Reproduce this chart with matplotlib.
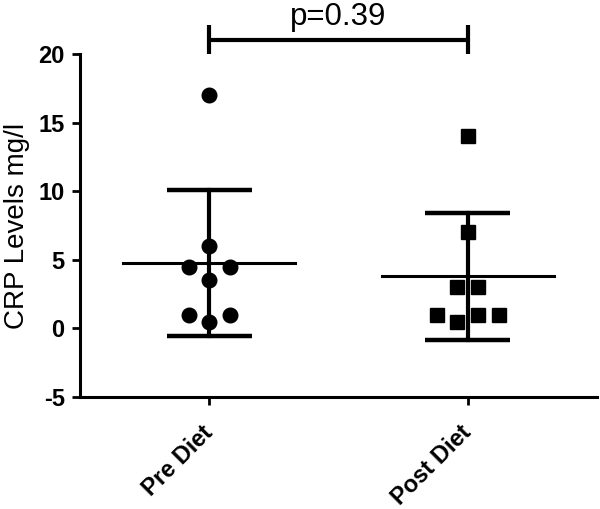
import numpy as np
import matplotlib
matplotlib.use("Agg")
import matplotlib.pyplot as plt

plt.rcParams['font.family'] = ['Liberation Sans', 'DejaVu Sans']

categories = ["Pre Diet", "Post Diet"]
pre_diet = [17, 6, 4.5, 4.5, 3.5, 1, 1, 0.5]
post_diet = [14, 7, 3, 3, 1, 1, 1, 0.5]
groups = [pre_diet, post_diet]
markers = ["o", "s"]
yticks = [-5, 0, 5, 10, 15, 20]
p_text = "p=0.39"


def swarm_offsets(vals, gap=1.0, step=0.08):
    order = np.argsort(vals, kind="stable")
    v = np.asarray(vals, dtype=float)[order]
    offs = np.zeros(len(v))
    rows = [[0]]
    for i in range(1, len(v)):
        if v[i] - v[rows[-1][-1]] <= gap:
            rows[-1].append(i)
        else:
            rows.append([i])
    for row in rows:
        n = len(row)
        pos = np.arange(n) - (n - 1) / 2.0
        pos = sorted(pos, key=lambda p: (abs(p), p))
        for idx, p in zip(row, pos):
            offs[idx] = p * step
    out = np.zeros(len(v))
    out[order] = offs
    return out


fig = plt.figure(figsize=(6.0, 5.09), dpi=100)
ax = fig.add_axes([80 / 600, 1 - 397 / 509, 517 / 600, 343 / 509])

for i, (vals, m) in enumerate(zip(groups, markers)):
    arr = np.asarray(vals, dtype=float)
    mean = arr.mean()
    sd = arr.std(ddof=1)
    ax.plot([i - 0.333, i + 0.333], [mean, mean], color="black", lw=2.2, zorder=2)
    ax.plot([i, i], [mean - sd, mean + sd], color="black", lw=3, zorder=2)
    for yv in (mean - sd, mean + sd):
        ax.plot([i - 0.165, i + 0.165], [yv, yv], color="black", lw=3.2,
                solid_capstyle="butt", zorder=2)
    xs = i + swarm_offsets(vals)
    ax.plot(xs, arr, linestyle="none", marker=m, color="black",
            markersize=10.5 if m == "o" else 10, zorder=3)

# significance bracket
ax.plot([0, 1], [21.05, 21.05], color="black", lw=3, clip_on=False,
        solid_capstyle="butt")
for xv in (0, 1):
    ax.plot([xv, xv], [20.0, 22.1], color="black", lw=3, clip_on=False,
            solid_capstyle="butt")
ax.text(0.5, 22.15, p_text, ha="center", va="baseline", fontsize=22.5)

ax.set_xlim(-0.5, 1.5)
ax.set_ylim(-5, 20)
ax.set_yticks(yticks)
ax.set_yticklabels([str(t) for t in yticks], fontsize=17, fontweight="bold")
ax.set_xticks([0, 1])
ax.set_xticklabels(categories, rotation=45, ha="right", va="center",
                   rotation_mode="anchor", fontsize=17, fontweight="bold")
ax.set_ylabel("CRP Levels mg/l", fontsize=20, labelpad=6)

for s in ("top", "right"):
    ax.spines[s].set_visible(False)
for s in ("left", "bottom"):
    ax.spines[s].set_linewidth(2.2)
ax.tick_params(axis="both", length=6, width=2, direction="out")
ax.tick_params(axis="y", pad=5)
ax.tick_params(axis="x", pad=17)

fig.savefig("out.png", dpi=100)
